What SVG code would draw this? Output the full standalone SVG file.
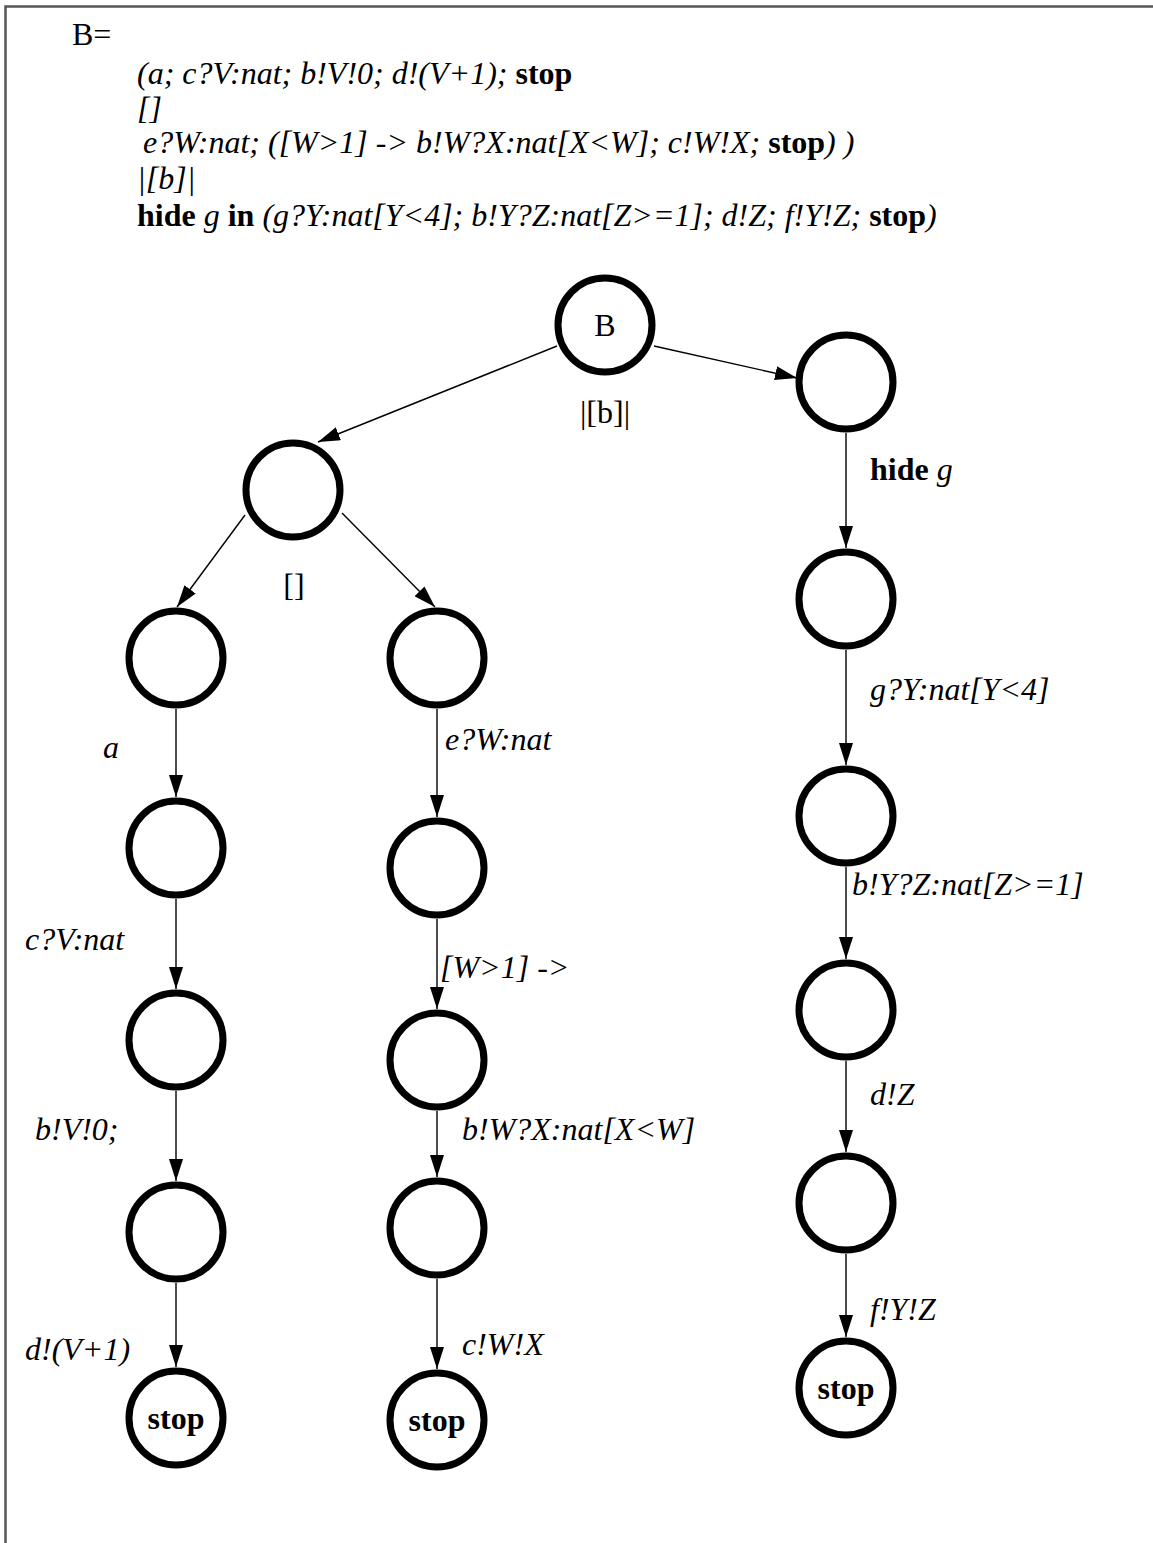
<svg xmlns="http://www.w3.org/2000/svg" width="1153" height="1543" viewBox="0 0 1153 1543">
<defs>
<marker id="ah" markerUnits="userSpaceOnUse" markerWidth="22" markerHeight="14" refX="22" refY="7" orient="auto">
<path d="M0,0 L22,7 L0,14 z" fill="#000"/>
</marker>
<style>
.n{fill:#fff;stroke:#000;stroke-width:7}
.e{fill:none;stroke:#000;stroke-width:1.4;marker-end:url(#ah)}
.t{font-family:"Liberation Serif","Times New Roman",serif;font-size:32px;fill:#000}
.i{font-style:italic}
.b{font-weight:bold}
.c{text-anchor:middle}
</style>
</defs>
<rect width="1153" height="1543" fill="#fff"/>
<path d="M5.5,1543 V6.5 H1153" fill="none" stroke="#555" stroke-width="2.5"/>
<g id="header">
<text class="t" x="72" y="45">B=</text>
<text class="t i" x="137" y="84">(a; c?V:nat; b!V!0; d!(V+1); <tspan class="b" font-style="normal">stop</tspan></text>
<text class="t i" x="137" y="119">[]</text>
<text class="t i" x="143" y="153">e?W:nat; ([W&gt;1] -&gt; b!W?X:nat[X&lt;W]; c!W!X; <tspan class="b" font-style="normal">stop</tspan>) )</text>
<text class="t i" x="137" y="189">|[b]|</text>
<text class="t i" x="137" y="226"><tspan class="b" font-style="normal">hide</tspan> g <tspan class="b" font-style="normal">in</tspan> (g?Y:nat[Y&lt;4]; b!Y?Z:nat[Z&gt;=1]; d!Z; f!Y!Z; <tspan class="b" font-style="normal">stop</tspan>)</text>
</g>
<g id="edges">
<path class="e" d="M557,346 L318,442"/>
<path class="e" d="M654,346 L797,378"/>
<path class="e" d="M245,515 L177,607"/>
<path class="e" d="M342,513 L435,607"/>
<path class="e" d="M176,709 V797"/>
<path class="e" d="M176,899 V989"/>
<path class="e" d="M176,1091 V1181"/>
<path class="e" d="M176,1283 V1367"/>
<path class="e" d="M437,709 V817"/>
<path class="e" d="M437,919 V1009"/>
<path class="e" d="M437,1111 V1177"/>
<path class="e" d="M437,1279 V1369"/>
<path class="e" d="M846,433 V548"/>
<path class="e" d="M846,650 V765"/>
<path class="e" d="M846,867 V959"/>
<path class="e" d="M846,1061 V1152"/>
<path class="e" d="M846,1254 V1337"/>
</g>
<g id="edge-labels">
<text class="t c" x="605" y="423">|[b]|</text>
<text class="t c" x="294" y="596">[]</text>
<text class="t i" x="103" y="758">a</text>
<text class="t i" x="25" y="950">c?V:nat</text>
<text class="t i" x="35" y="1140">b!V!0;</text>
<text class="t i" x="25" y="1360">d!(V+1)</text>
<text class="t i" x="445" y="750">e?W:nat</text>
<text class="t i" x="440" y="978">[W&gt;1] -&gt;</text>
<text class="t i" x="462" y="1140">b!W?X:nat[X&lt;W]</text>
<text class="t i" x="462" y="1355">c!W!X</text>
<text class="t" x="870" y="480"><tspan class="b">hide</tspan> <tspan class="i">g</tspan></text>
<text class="t i" x="870" y="700">g?Y:nat[Y&lt;4]</text>
<text class="t i" x="852" y="895">b!Y?Z:nat[Z&gt;=1]</text>
<text class="t i" x="870" y="1105">d!Z</text>
<text class="t i" x="870" y="1320">f!Y!Z</text>
</g>
<g id="node-B"><circle class="n" cx="605" cy="325" r="47"/><text class="t c" x="605" y="336">B</text></g>
<g id="node-choice"><circle class="n" cx="293" cy="490" r="47"/></g>
<g id="node-L1"><circle class="n" cx="176" cy="658" r="47"/></g>
<g id="node-L2"><circle class="n" cx="176" cy="848" r="47"/></g>
<g id="node-L3"><circle class="n" cx="176" cy="1040" r="47"/></g>
<g id="node-L4"><circle class="n" cx="176" cy="1232" r="47"/></g>
<g id="node-L5"><circle class="n" cx="176" cy="1418" r="47"/><text class="t c b" x="176" y="1429">stop</text></g>
<g id="node-M1"><circle class="n" cx="437" cy="658" r="47"/></g>
<g id="node-M2"><circle class="n" cx="437" cy="868" r="47"/></g>
<g id="node-M3"><circle class="n" cx="437" cy="1060" r="47"/></g>
<g id="node-M4"><circle class="n" cx="437" cy="1228" r="47"/></g>
<g id="node-M5"><circle class="n" cx="437" cy="1420" r="47"/><text class="t c b" x="437" y="1431">stop</text></g>
<g id="node-R1"><circle class="n" cx="846" cy="382" r="47"/></g>
<g id="node-R2"><circle class="n" cx="846" cy="599" r="47"/></g>
<g id="node-R3"><circle class="n" cx="846" cy="816" r="47"/></g>
<g id="node-R4"><circle class="n" cx="846" cy="1010" r="47"/></g>
<g id="node-R5"><circle class="n" cx="846" cy="1203" r="47"/></g>
<g id="node-R6"><circle class="n" cx="846" cy="1388" r="47"/><text class="t c b" x="846" y="1399">stop</text></g>
</svg>
